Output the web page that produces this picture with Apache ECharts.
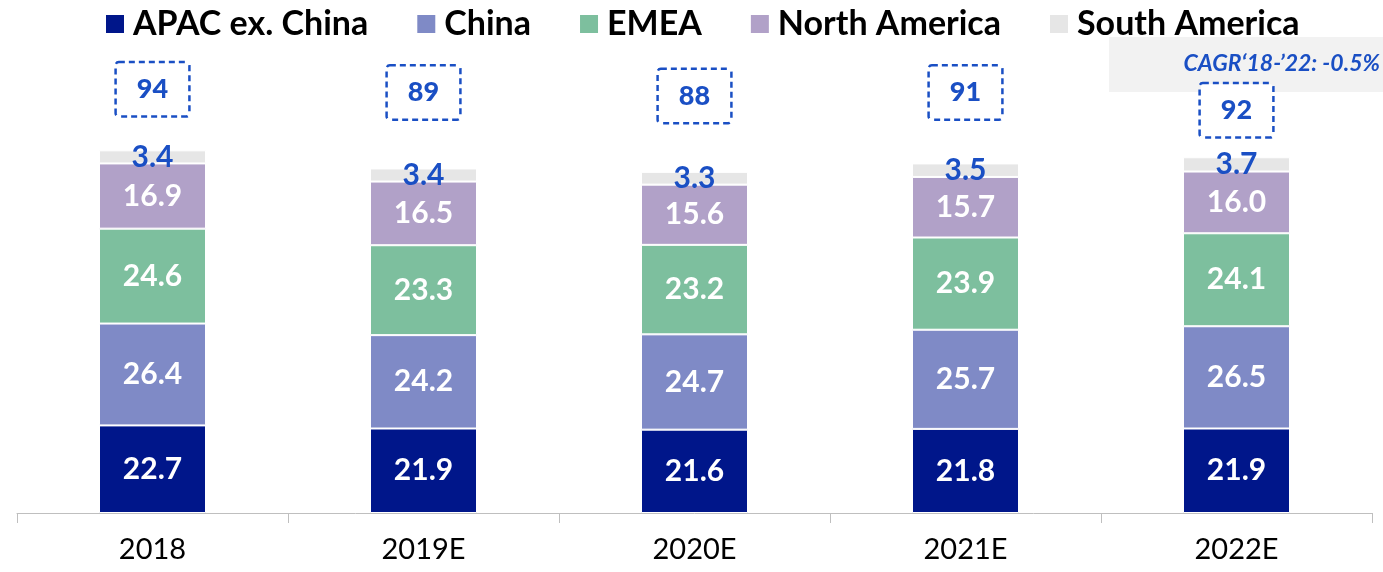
<!DOCTYPE html>
<html>
<head>
    <meta charset="utf-8">
    <title>Regional split</title>
    <script src="https://cdn.jsdelivr.net/npm/echarts@6/dist/echarts.min.js"></script>
    <style>
        html, body { margin: 0; padding: 0; background: #fff; }
        #main { width: 1383px; height: 572px; }
    </style>
</head>
<body>
<div id="main"></div>
<script>
// data
const years = ['2018', '2019E', '2020E', '2021E', '2022E'];
const apacExChina = [22.7, 21.9, 21.6, 21.8, 21.9];
const china = [26.4, 24.2, 24.7, 25.7, 26.5];
const emea = [24.6, 23.3, 23.2, 23.9, 24.1];
const northAmerica = [16.9, 16.5, 15.6, 15.7, 16.0];
const southAmerica = [3.4, 3.4, 3.3, 3.5, 3.7];
const cagrText = 'CAGR‘18-’22: -0.5%';

const blue = '#1a4fc4';
const font = 'Lato, "Open Sans", sans-serif';

const totals = years.map((y, i) =>
    apacExChina[i] + china[i] + emea[i] + northAmerica[i] + southAmerica[i]);

// vertical shift of the dashed total boxes above the bar tops (px)
const boxShift = [-61, -76, -76, -71, -47];

function stackSeries(name, data, color, labelColor) {
    return {
        name: name,
        type: 'bar',
        stack: 'total',
        barWidth: 107,
        data: data,
        itemStyle: { color: color, borderColor: '#fff', borderWidth: 1 },
        label: {
            show: true,
            position: 'inside',
            color: labelColor,
            fontFamily: font,
            fontWeight: 'bold',
            fontSize: 30,
            formatter: p => p.value.toFixed(1)
        }
    };
}

const chart = echarts.init(document.getElementById('main'));

chart.setOption({
    animation: false,
    grid: { left: 17, right: 11, top: 50, bottom: 59 },
    legend: {
        data: ['APAC ex. China', 'China', 'EMEA', 'North America', 'South America'],
        top: 2,
        left: 99,
        icon: 'rect',
        itemWidth: 20,
        itemHeight: 20,
        itemGap: 47,
        textStyle: { fontFamily: font, fontWeight: 'bold', fontSize: 34, color: '#000', padding: [0, 0, 0, 3] }
    },
    xAxis: {
        type: 'category',
        data: years,
        axisLine: { lineStyle: { color: '#bfbfbf', width: 1 } },
        axisTick: { show: true, length: 10, lineStyle: { color: '#bfbfbf' } },
        axisLabel: { color: '#000', fontFamily: font, fontSize: 29, margin: 22 }
    },
    yAxis: {
        type: 'value',
        min: 0,
        max: 120,
        show: false,
        splitLine: { show: false }
    },
    graphic: [
        {
            type: 'rect',
            shape: { x: 1109, y: 37, width: 274, height: 55 },
            style: { fill: '#f2f2f2' },
            z: 0
        },
        {
            type: 'text',
            x: 1380,
            y: 64,
            style: {
                text: cagrText,
                fill: blue,
                font: 'italic bold 23px ' + font,
                align: 'right',
                verticalAlign: 'middle'
            },
            z: 1
        }
    ],
    series: [
        stackSeries('APAC ex. China', apacExChina, '#00168a', '#fff'),
        stackSeries('China', china, '#7f8ac6', '#fff'),
        stackSeries('EMEA', emea, '#7dbf9e', '#fff'),
        stackSeries('North America', northAmerica, '#b1a1c8', '#fff'),
        stackSeries('South America', southAmerica, '#e6e6e6', blue),
        {
            name: 'total',
            type: 'scatter',
            symbolSize: 0,
            z: 5,
            itemStyle: { opacity: 1 },
            data: totals.map((t, i) => ({
                value: t,
                label: { offset: [0, boxShift[i]] }
            })),
            label: {
                show: true,
                position: 'inside',
                opacity: 1,
                formatter: p => Math.round(p.value),
                color: blue,
                fontFamily: font,
                fontWeight: 900,
                fontSize: 27,
                lineHeight: 28,
                padding: [12, 20, 12, 20],
                borderColor: blue,
                borderWidth: 2.5,
                borderType: [6, 4],
                borderRadius: 2,
                backgroundColor: '#fff'
            }
        }
    ]
});
</script>
</body>
</html>
